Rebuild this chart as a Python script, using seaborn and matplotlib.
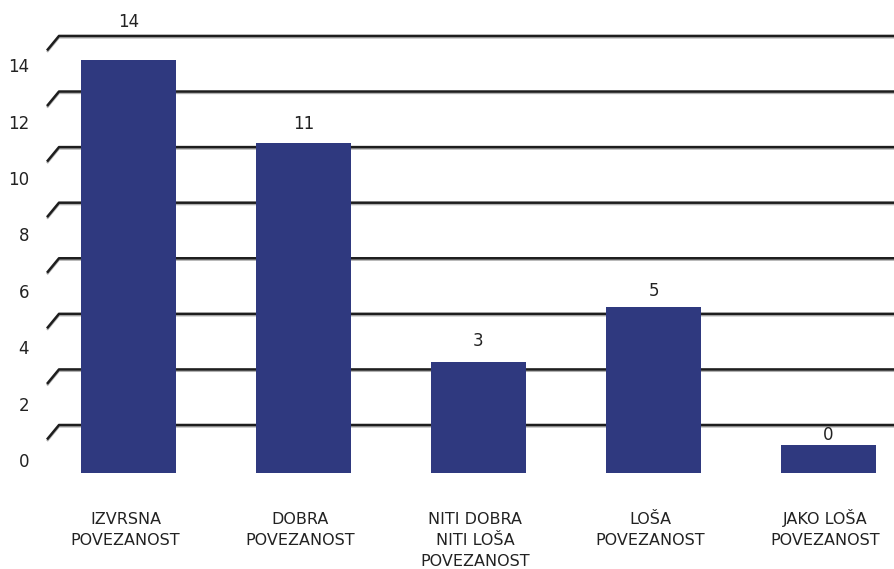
import matplotlib
matplotlib.use("Agg")
import matplotlib.pyplot as plt
import seaborn as sns
import pandas as pd

categories = ["IZVRSNA\nPOVEZANOST", "DOBRA\nPOVEZANOST", "NITI DOBRA\nNITI LOŠA\nPOVEZANOST",
              "LOŠA\nPOVEZANOST", "JAKO LOŠA\nPOVEZANOST"]
values = [14, 11, 3, 5, 0]
y_ticks = [0, 2, 4, 6, 8, 10, 12, 14]

# layout (pixels)
label_offsets = [38, 19, 21, 16, 9]
W, H = 894, 569
X0, XS = 128.5, 175.0   # first bar centre, bar spacing
Y0, YS = 444.5, 27.45   # front-face zero, px per unit

def dx(px):
    return (px - X0) / XS

def dy(py):
    return (Y0 - py) / YS

sns.set_theme(style="white")
plt.rcParams["font.family"] = ["DejaVu Sans"]

fig = plt.figure(figsize=(W / 100, H / 100), dpi=100)
ax = fig.add_axes([0, 0, 1, 1])

df = pd.DataFrame({"cat": categories, "val": values})
sns.barplot(data=df, x="cat", y="val", order=categories, color="#2f397f",
            saturation=1, width=95 / XS, ax=ax, zorder=3, linewidth=0)

base = dy(473)
for p in ax.patches:
    h = p.get_height()
    p.set_y(base)
    p.set_height(h - base)

# gridlines (back wall with slanted floor connector)
for g in y_ticks:
    py = 425 - 27.79 * g
    xs = [dx(47), dx(59), dx(W + 5)]
    ys = [dy(py + 14.5), dy(py), dy(py)]
    ax.plot(xs, [dy(py + 14.5 + 1.5), dy(py + 1.5), dy(py + 1.5)], color="#b0b0b0",
            lw=1.6, zorder=1, solid_capstyle="butt")
    ax.plot(xs, ys, color="#1e1e1e", lw=1.8, zorder=2, solid_capstyle="butt")
    ax.text(dx(29), dy(462 - 28.2 * g), str(g), ha="right", va="center",
            fontsize=12, color="#222222")

# value labels
for i, (v, off) in enumerate(zip(values, label_offsets)):
    top_py = Y0 - YS * v
    ax.text(i, dy(top_py - off), str(v), ha="center", va="center",
            fontsize=12, color="#222222")

# category labels, one line at a time
for i, c in enumerate(categories):
    for j, line in enumerate(c.split("\n")):
        ax.text(i - 3 / XS, dy(524 + 21 * j), line, ha="center", va="baseline",
                fontsize=11.5, color="#222222")

ax.set_xlim(dx(0), dx(W))
ax.set_ylim(dy(H), dy(0))
ax.axis("off")
fig.savefig("out.png", dpi=100)
